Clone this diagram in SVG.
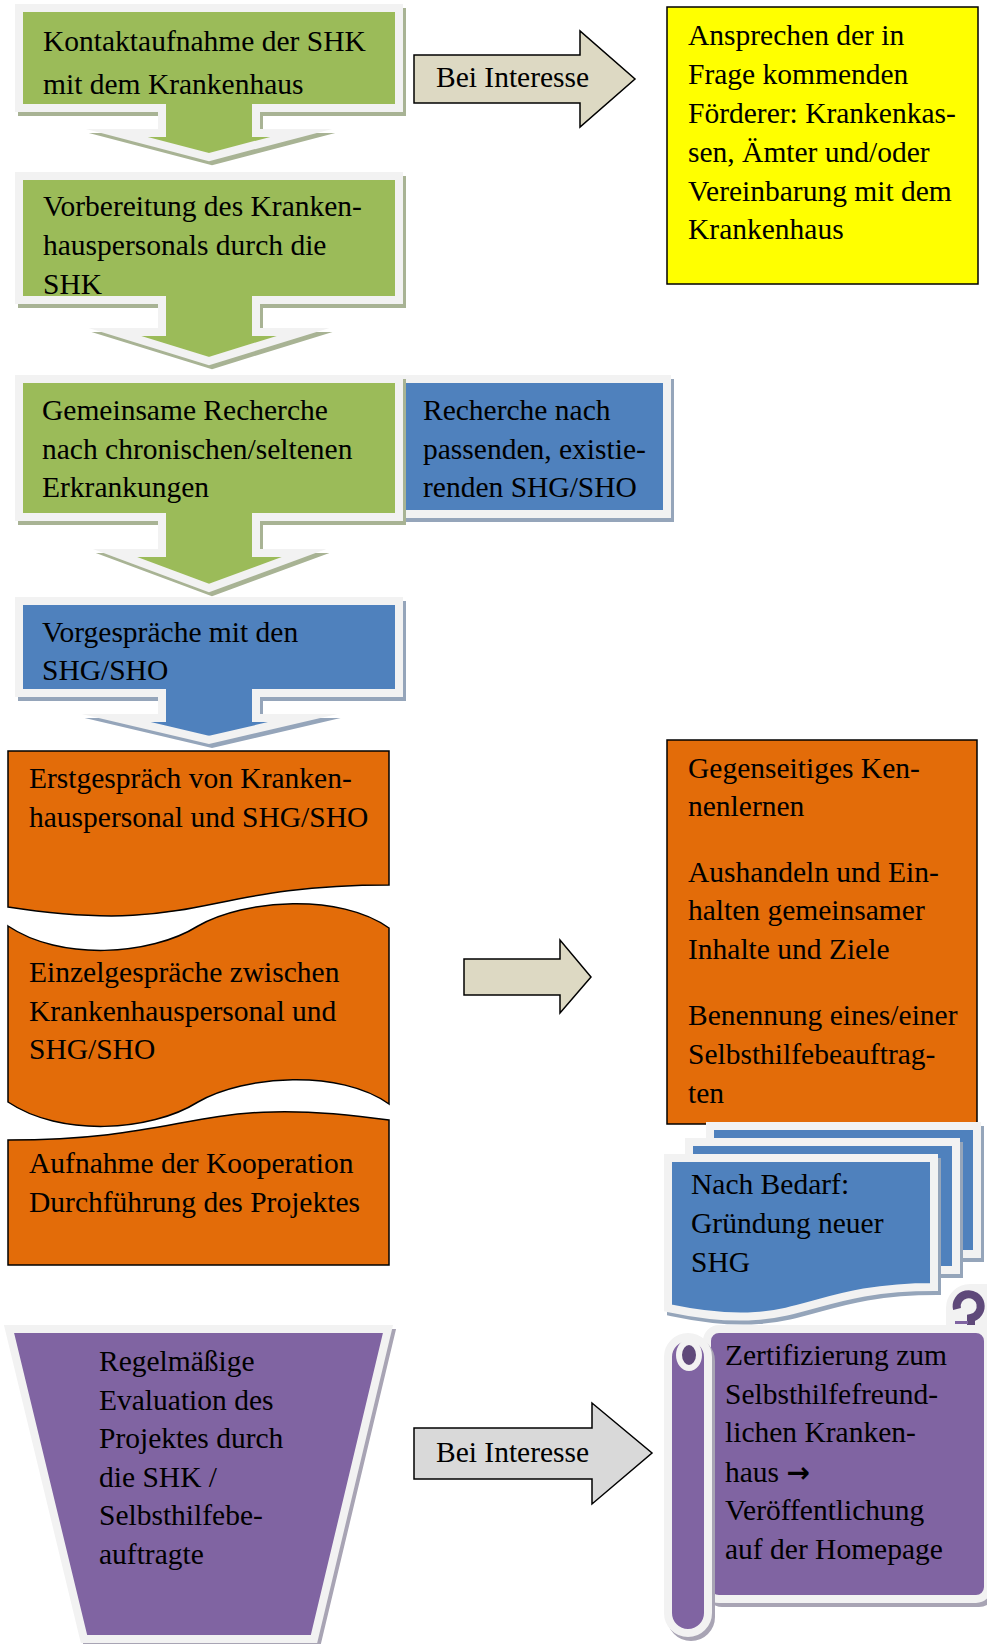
<svg xmlns="http://www.w3.org/2000/svg" xmlns:xlink="http://www.w3.org/1999/xlink" width="987" height="1644" viewBox="0 0 987 1644">
<style>
text { font-family: "Liberation Serif", "Times New Roman", serif; font-size: 29.5px; fill: #000; }
.fr { stroke: #f2f2f2; stroke-width: 8; stroke-linejoin: miter; stroke-miterlimit: 12; }
.g { fill: #9bbb59; }
.b { fill: #4f81bd; }
.p { fill: #8064a2; }
.sh { stroke-width: 8; stroke-linejoin: miter; stroke-miterlimit: 12; }
.shg { fill: #a8b394; stroke: #a8b394; }
.shb { fill: #95a5ba; stroke: #95a5ba; }
.shp { fill: #a8a4b4; stroke: #a8a4b4; }
.ol { stroke: #000; stroke-width: 1.5; stroke-linejoin: miter; }
.or { fill: #e36c09; }
.ye { fill: #ffff00; }
.be { fill: #ddd9c3; }
.gr { fill: #d9d9d9; }
.curl { fill: none; stroke: #5f497a; stroke-width: 8; stroke-linecap: butt; }
</style>
<defs>
  <path id="s1" d="M19,8 H399 V108 H256 V133 H301 L209,157 L117,133 H162 V108 H19 Z"/>
  <path id="s2" d="M19,176 H399 V300 H256 V332 H303 L209,361 L115,332 H162 V300 H19 Z"/>
  <path id="s3" d="M19,379 H399 V517 H256 V553 H304 L209,588 L115,553 H162 V517 H19 Z"/>
  <path id="s4" d="M19,601 H399 V693 H256 V718 H303 L209,740 L116,718 H162 V693 H19 Z"/>
  <rect id="rb" x="400" y="379" width="267" height="135"/>
  <rect id="md3" x="710" y="1126" width="267" height="128"/>
  <rect id="md2" x="689" y="1142" width="267" height="128"/>
  <path id="md1" d="M668,1158 H934 V1287 C801,1287 801,1336 668,1308 Z"/>
  <path id="trap" d="M9,1329 H388 L314,1639 H84 Z"/>
  <rect id="scbody" x="707" y="1329" width="281" height="270" rx="12"/>
  <rect id="scroll" x="668" y="1337" width="40" height="296" rx="20"/>
  <rect id="scbump" x="950" y="1288" width="56" height="62" rx="20"/>
</defs>

<g id="connectors">
  <path class="be ol" d="M414,55 H580 V31 L635,79 L580,127 V103 H414 Z"/>
  <path class="be ol" d="M464,959 H560 V940 L591,977 L560,1013 V995 H464 Z"/>
  <path class="gr ol" d="M414,1428 H592 V1403 L652,1453 L592,1504 V1479 H414 Z"/>
  <text x="436" y="87">Bei Interesse</text>
  <text x="436" y="1462">Bei Interesse</text>
</g>

<g id="node-kontakt">
  <use href="#s1" class="sh shg" transform="translate(3,4)"/>
  <use href="#s1" class="g fr"/>
  <text x="43" y="51">Kontaktaufnahme der SHK</text>
  <text x="43" y="94">mit dem Krankenhaus</text>
</g>

<g id="node-vorbereitung">
  <use href="#s2" class="sh shg" transform="translate(3,4)"/>
  <use href="#s2" class="g fr"/>
  <text x="43" y="216">Vorbereitung des Kranken-</text>
  <text x="43" y="255">hauspersonals durch die</text>
  <text x="43" y="294">SHK</text>
</g>

<g id="node-recherche-shg">
  <use href="#rb" class="sh shb" transform="translate(3,4)"/>
  <use href="#rb" class="b fr"/>
  <text x="423" y="420">Recherche nach</text>
  <text x="423" y="459">passenden, existie-</text>
  <text x="423" y="497">renden SHG/SHO</text>
</g>

<g id="node-recherche">
  <use href="#s3" class="sh shg" transform="translate(3,4)"/>
  <use href="#s3" class="g fr"/>
  <text x="42" y="420">Gemeinsame Recherche</text>
  <text x="42" y="459">nach chronischen/seltenen</text>
  <text x="42" y="497">Erkrankungen</text>
</g>

<g id="node-vorgespraeche">
  <use href="#s4" class="sh shb" transform="translate(3,4)"/>
  <use href="#s4" class="b fr"/>
  <text x="42" y="642">Vorgespräche mit den</text>
  <text x="42" y="680">SHG/SHO</text>
</g>

<g id="node-foerderer">
  <rect class="ye ol" x="667" y="7" width="311" height="277"/>
  <text x="688" y="45">Ansprechen der in</text>
  <text x="688" y="84">Frage kommenden</text>
  <text x="688" y="123">Förderer: Krankenkas-</text>
  <text x="688" y="162">sen, Ämter und/oder</text>
  <text x="688" y="201">Vereinbarung mit dem</text>
  <text x="688" y="239">Krankenhaus</text>
</g>

<g id="node-erstgespraech">
  <path class="or ol" d="M8,751 H389 V885 C198,885 198,936 8,907 Z"/>
  <text x="29" y="788">Erstgespräch von Kranken-</text>
  <text x="29" y="827">hauspersonal und SHG/SHO</text>
</g>

<g id="node-einzelgespraeche">
  <path class="or ol" d="M8,926 C60,961 150,956 198,926 C245,899 340,893 389,928 V1104 C340,1069 245,1075 198,1102 C150,1132 60,1137 8,1102 Z"/>
  <text x="29" y="982">Einzelgespräche zwischen</text>
  <text x="29" y="1021">Krankenhauspersonal und</text>
  <text x="29" y="1059">SHG/SHO</text>
</g>

<g id="node-aufnahme">
  <path class="or ol" d="M8,1265 V1140 C198,1140 198,1093 389,1120 V1265 Z"/>
  <text x="29" y="1173">Aufnahme der Kooperation</text>
  <text x="29" y="1212">Durchführung des Projektes</text>
</g>

<g id="node-inhalte">
  <rect class="or ol" x="667" y="740" width="310" height="384"/>
  <text x="688" y="778">Gegenseitiges Ken-</text>
  <text x="688" y="816">nenlernen</text>
  <text x="688" y="882">Aushandeln und Ein-</text>
  <text x="688" y="920">halten gemeinsamer</text>
  <text x="688" y="959">Inhalte und Ziele</text>
  <text x="688" y="1025">Benennung eines/einer</text>
  <text x="688" y="1064">Selbsthilfebeauftrag-</text>
  <text x="688" y="1103">ten</text>
</g>

<g id="node-gruendung">
  <use href="#md3" class="sh shb" transform="translate(3,4)"/>
  <use href="#md3" class="b fr"/>
  <use href="#md2" class="sh shb" transform="translate(3,4)"/>
  <use href="#md2" class="b fr"/>
  <use href="#md1" class="sh shb" transform="translate(3,4)"/>
  <use href="#md1" class="b fr"/>
  <text x="691" y="1194">Nach Bedarf:</text>
  <text x="691" y="1233">Gründung neuer</text>
  <text x="691" y="1272">SHG</text>
</g>

<g id="node-evaluation">
  <use href="#trap" class="sh shp" transform="translate(3,4)"/>
  <use href="#trap" class="p fr"/>
  <text x="99" y="1371">Regelmäßige</text>
  <text x="99" y="1410">Evaluation des</text>
  <text x="99" y="1448">Projektes durch</text>
  <text x="99" y="1487">die SHK /</text>
  <text x="99" y="1525">Selbsthilfebe-</text>
  <text x="99" y="1564">auftragte</text>
</g>

<g id="node-zertifizierung">
  <use href="#scbump" class="sh shp" transform="translate(3,4)"/>
  <use href="#scbump" class="fr" fill="#f2f2f2"/>
  <path class="curl" d="M957,1309 A12,12 0 1 1 971,1318 L971,1325"/>
  <rect x="955" y="1321" width="13" height="3" fill="#8064a2"/>
  <use href="#scbody" class="sh shp" transform="translate(3,4)"/>
  <use href="#scbody" class="p fr"/>
  <use href="#scroll" class="sh shp" transform="translate(3,4)"/>
  <use href="#scroll" class="p fr"/>
  <ellipse cx="689" cy="1355" rx="10" ry="13" fill="#5f497a" stroke="#f2f2f2" stroke-width="6"/>
  <text x="725" y="1365">Zertifizierung zum</text>
  <text x="725" y="1404">Selbsthilfefreund-</text>
  <text x="725" y="1442">lichen Kranken-</text>
  <text x="725" y="1482">haus <tspan font-family="DejaVu Sans" font-weight="bold" font-size="28">→</tspan></text>
  <text x="725" y="1520">Veröffentlichung</text>
  <text x="725" y="1559">auf der Homepage</text>
</g>
</svg>
